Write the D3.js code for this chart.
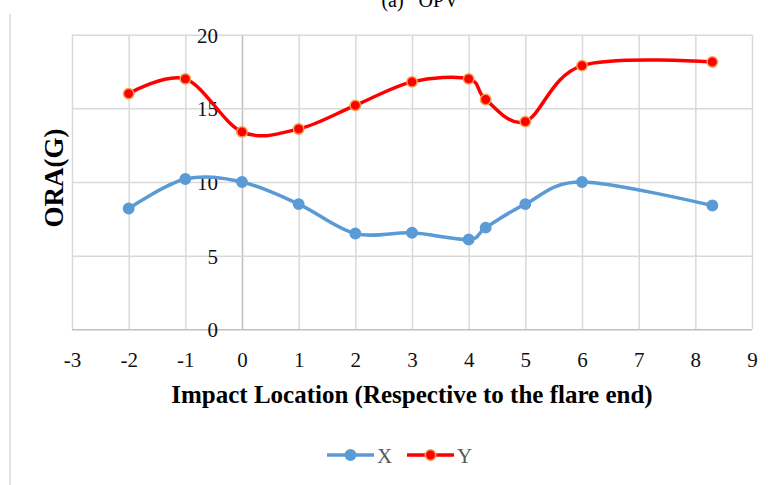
<!DOCTYPE html>
<html>
<head>
<meta charset="utf-8">
<script src="https://cdn.jsdelivr.net/npm/d3@7"></script>
<style>
  body { margin: 0; background: #fff; }
  svg { display: block; font-family: "Liberation Serif", "Times New Roman", serif; }
  svg text { font-family: "Liberation Serif", "Times New Roman", serif; }
</style>
</head>
<body>
<div id="chart"></div>
<script>
// data
const positions = [-2, -1, 0, 1, 2, 3, 4, 4.3, 5, 6, 8.3];
const valuesX = [8.2, 10.2, 10.0, 8.5, 6.5, 6.55, 6.1, 6.9, 8.5, 10.0, 8.4];
const valuesY = [16.0, 17.0, 13.4, 13.6, 15.2, 16.8, 17.0, 15.6, 14.1, 17.9, 18.15];
const xTicks = [-3, -2, -1, 0, 1, 2, 3, 4, 5, 6, 7, 8, 9];
const yTicks = [0, 5, 10, 15, 20];
const seriesNames = ["X", "Y"];

const width = 770, height = 485;
const plot = { left: 72, right: 752, top: 34.7, bottom: 329.3 };

const svg = d3.select("#chart")
    .append("svg")
    .attr("width", width)
    .attr("height", height);

// outer frame edge on the left
svg.append("line")
    .attr("x1", 10).attr("x2", 10)
    .attr("y1", 14).attr("y2", height)
    .attr("stroke", "#d9d9d9")
    .attr("stroke-width", 1.5);

// title (cut off at the top in the original)
svg.append("text")
    .attr("x", 420)
    .attr("y", 7)
    .attr("text-anchor", "middle")
    .attr("fill", "#000")
    .style("font-size", "20px")
    .style("white-space", "pre")
    .text("(a)   OPV");

const x = d3.scaleLinear().domain([-3, 9]).range([plot.left, plot.right]);
const y = d3.scaleLinear().domain([0, 20]).range([plot.bottom, plot.top]);

// vertical gridlines + x tick labels
const xAxis = svg.append("g")
    .attr("transform", `translate(0,${plot.bottom})`)
    .call(d3.axisBottom(x).tickValues(xTicks).tickSize(-(plot.bottom - plot.top)).tickFormat(d3.format("d")))
    .attr("font-family", null)
    .attr("font-size", null);
xAxis.select(".domain").remove();
xAxis.selectAll(".tick line")
    .attr("stroke", d => d === 0 ? "#bfbfbf" : "#d9d9d9")
    .attr("stroke-width", 1.5);
xAxis.selectAll(".tick text")
    .attr("y", 38)
    .attr("dy", 0)
    .attr("fill", "#111")
    .style("font-size", "21px")
    .text(d => d < 0 ? "-" + Math.abs(d) : d);

// horizontal gridlines
const yGrid = svg.append("g")
    .attr("transform", `translate(${plot.left},0)`)
    .call(d3.axisLeft(y).tickValues(yTicks).tickSize(-(plot.right - plot.left)).tickFormat(""));
yGrid.select(".domain").remove();
yGrid.selectAll(".tick line")
    .attr("stroke", d => d === 0 ? "#bfbfbf" : "#d9d9d9")
    .attr("stroke-width", 1.5);

// y tick labels sit next to the axis at x = 0
const yAxis = svg.append("g")
    .attr("transform", `translate(${x(0)},0)`)
    .call(d3.axisLeft(y).tickValues(yTicks).tickSize(0).tickPadding(24))
    .attr("font-family", null)
    .attr("font-size", null);
yAxis.select(".domain").remove();
yAxis.selectAll(".tick text")
    .attr("fill", "#111")
    .attr("dy", "0.35em")
    .style("font-size", "21px");

// axis titles
svg.append("text")
    .attr("x", (plot.left + plot.right) / 2)
    .attr("y", 403)
    .attr("text-anchor", "middle")
    .attr("fill", "#000")
    .style("font-size", "25px")
    .style("font-weight", "bold")
    .text("Impact Location (Respective to the flare end)");

svg.append("text")
    .attr("transform", "translate(63,178) rotate(-90)")
    .attr("text-anchor", "middle")
    .attr("fill", "#000")
    .style("font-size", "27px")
    .style("font-weight", "bold")
    .text("ORA(G)");

// series
const series = [
    { name: seriesNames[0], values: valuesX, color: "#5b9bd5", fill: "#5b9bd5", stroke: "#5b9bd5" },
    { name: seriesNames[1], values: valuesY, color: "#ff0000", fill: "#ff0000", stroke: "#f4a050" }
];

const line = d3.line()
    .x(d => x(d[0]))
    .y(d => y(d[1]))
    .curve(d3.curveCardinal.tension(0));

series.forEach(s => {
    const pts = positions.map((p, i) => [p, s.values[i]]);
    svg.append("path")
        .datum(pts)
        .attr("fill", "none")
        .attr("stroke", s.color)
        .attr("stroke-width", 3.5)
        .attr("stroke-linejoin", "round")
        .attr("d", line);

    svg.append("g")
        .selectAll("circle")
        .data(pts)
        .join("circle")
        .attr("cx", d => x(d[0]))
        .attr("cy", d => y(d[1]))
        .attr("r", 5.2)
        .attr("fill", s.fill)
        .attr("stroke", s.stroke)
        .attr("stroke-width", 1.5);
});

// legend
const legend = svg.append("g").attr("transform", "translate(327,455)");
series.forEach((s, i) => {
    const g = legend.append("g").attr("transform", `translate(${i * 80},0)`);
    g.append("line")
        .attr("x1", 0).attr("x2", 47)
        .attr("stroke", s.color)
        .attr("stroke-width", 3.5);
    g.append("circle")
        .attr("cx", 23.5)
        .attr("r", 5.2)
        .attr("fill", s.fill)
        .attr("stroke", s.stroke)
        .attr("stroke-width", 1.5);
    g.append("text")
        .attr("x", 50)
        .attr("y", 8)
        .attr("fill", "#595959")
        .style("font-size", "21px")
        .text(s.name);
});
</script>
</body>
</html>
